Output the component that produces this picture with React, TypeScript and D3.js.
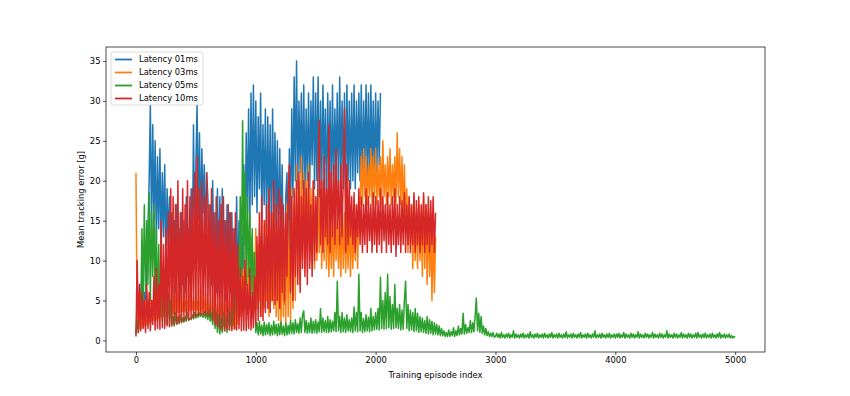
import React, { useEffect, useRef } from 'react';
import * as d3 from 'd3';

const WIDTH = 850;
const HEIGHT = 396;

// one sample every 10 episodes
const EPISODE_STEP = 10;

const seriesNames = ['Latency 01ms', 'Latency 03ms', 'Latency 05ms', 'Latency 10ms'];
const seriesColors = ['#1f77b4', '#ff7f0e', '#2ca02c', '#d62728'];

// episodes 0 - 2040
const latency01 = [
  0.8, 4, 2, 7, 1.5, 9, 3, 6, 2.5, 11,
  14, 20, 29.5, 13, 27, 15, 25, 12, 23, 14,
  24, 11, 21, 13, 22, 10, 19, 12, 18, 10,
  16, 8, 15, 6, 17, 9, 14, 5, 16, 7,
  15, 6, 18, 8, 14, 7, 19, 9, 27, 12,
  22, 29.5, 15, 26, 13, 24, 16, 22, 12, 21,
  18, 9, 17, 7, 20, 10, 16, 6, 19, 8,
  18, 6, 19, 9, 15, 5, 17, 8, 16, 6,
  16, 5, 14, 7, 18, 6, 15, 4, 13, 8,
  22, 12, 26, 16, 29, 14, 31, 17, 32, 18,
  30, 16, 28, 19, 31, 15, 27, 17, 29, 14,
  28, 16, 27, 13, 29, 15, 26, 14, 25, 12,
  24, 13, 22, 10, 4.5, 18, 21, 9, 24, 14,
  29, 18, 33, 20, 35, 19, 30, 21, 31, 19,
  32, 18, 29, 20, 31, 19, 30, 22, 33, 19,
  31, 20, 33, 18, 30, 19, 32, 21, 29, 17,
  31, 20, 30, 18, 32, 19, 29, 21, 31, 18,
  33, 20, 30, 19, 31, 18, 32, 20, 30, 19,
  31, 20, 32, 19, 30, 21, 31, 20, 32, 19,
  30, 21, 32, 20, 31, 19, 32, 21, 30, 20,
  31, 21, 30, 22, 31,
];

// episodes 0 - 2500
const latency03 = [
  21, 2, 3.5, 1.5, 4, 1.6, 3, 1.8, 5, 2,
  4, 2.2, 6, 2.3, 5, 2.5, 4.5, 2.6, 7, 2.8,
  5, 2.9, 6, 3, 8, 3.1, 5, 3.2, 6, 3.3,
  5, 3.3, 7, 3.4, 6, 3.5, 9, 3.5, 5, 3.6,
  6, 3.6, 5, 3.7, 7, 3.7, 6, 3.8, 5, 3.8,
  6, 3.8, 5, 3.7, 7, 3.6, 5, 3.5, 6, 3.4,
  5, 3.2, 4.5, 3, 6, 2.8, 5, 2.5, 4.5, 2.2,
  5, 2, 6, 1.8, 5, 2, 7, 2.2, 5, 2,
  6, 1.8, 5, 1.5, 8, 2, 6, 3, 9, 4,
  11, 4, 9, 5, 12, 4, 13, 5, 11, 6,
  14, 4, 12, 5, 13, 3, 12, 4, 15, 5,
  13, 3, 14, 5, 16, 4, 12, 3, 13, 2.5,
  14, 2, 12, 3, 14, 1.5, 17, 3, 15, 2.5,
  19, 4, 17, 5, 22, 8, 20, 7, 23, 10,
  21, 9, 20, 11, 22, 10, 19, 11, 20, 9,
  18, 10, 19, 11, 17, 9, 19, 10, 18, 9,
  17, 8, 16, 9, 15, 8, 17, 10, 16, 9,
  15, 8, 17, 9, 16, 8.5, 15, 9, 16, 8,
  15, 9, 16, 10, 17, 9, 18, 17, 23, 17,
  24, 18, 23, 17, 22, 18, 24, 17, 23, 18,
  24, 17, 22, 18, 23, 17, 25, 18, 22, 17,
  23, 18, 24, 17, 22, 18, 23, 17, 26, 18,
  24, 17, 23, 16, 22, 15, 19, 11, 18, 12,
  17, 9, 18, 10, 16, 9, 17, 10, 16, 8,
  18, 9, 17, 7, 16, 8, 15, 5, 14, 6,
  13,
];

// episodes 0 - 5000
const latency05 = [
  0.8, 2.5, 1, 6, 3, 14, 5, 17, 6, 15,
  7, 18.5, 5, 16, 8, 17, 5, 14, 4, 12,
  3, 10, 2.5, 9, 2, 8, 2, 6, 1.8, 5,
  2, 3, 1.8, 3.5, 2, 3, 2.1, 3.2, 2.2, 2.8,
  2.3, 3, 2.4, 3.5, 2.5, 2.8, 2.6, 3.2, 2.7, 3.5,
  2.8, 3.3, 2.9, 3.5, 3, 3.4, 2.9, 3.6, 2.8, 3.5,
  2.6, 3.8, 2.4, 3.5, 2, 4, 1.5, 3.5, 1, 3.2,
  0.8, 2.8, 1, 3.5, 1.2, 3, 1, 4, 1.3, 3.5,
  1.5, 6, 2, 9, 3, 12, 5, 18, 8, 27.5,
  9, 21, 7, 18, 8, 16, 6, 14, 5, 11,
  1, 2.2, 0.7, 2.4, 0.8, 1.9, 0.6, 2.3, 0.7, 2,
  0.8, 2.2, 0.6, 1.9, 0.7, 2.4, 0.8, 2, 0.6, 2.1,
  0.7, 2.3, 0.8, 1.8, 0.6, 2.2, 0.7, 1.9, 0.8, 2.5,
  0.9, 2.2, 0.8, 2.6, 1, 2.1, 0.9, 2.8, 1, 3.2,
  3.7, 1, 2.5, 0.9, 2.2, 1, 2.8, 0.9, 2.4, 1,
  2.6, 0.9, 2.3, 1.1, 4, 1, 2.8, 1.1, 2.5, 1,
  3, 1, 2.6, 1.1, 2.4, 1.2, 3.5, 1.1, 7.4, 1.2,
  3, 1, 3.5, 1.1, 2.8, 1, 3.2, 1.2, 2.6, 1.1,
  2.8, 1, 4.2, 1.2, 3.5, 1.1, 8.3, 1.2, 3.5, 1,
  2.7, 1.1, 3.2, 1.2, 2.9, 1.1, 4, 1.2, 3, 1.3,
  3.5, 1.4, 4, 1.3, 7.9, 1.5, 5, 1.4, 6, 1.5,
  8.3, 1.6, 5.5, 1.4, 4.5, 1.5, 7, 1.6, 4, 1.5,
  4.5, 1.3, 3.8, 1.4, 5, 7.4, 1.5, 4.5, 1.2, 3.8,
  1.3, 3.5, 1.1, 4, 1.2, 3.4, 1, 3, 1.1, 2.8,
  1, 2.5, 0.9, 3, 0.8, 2.6, 0.9, 2.4, 0.7, 2.2,
  0.8, 2, 0.7, 1.8, 0.6, 1.5, 0.6, 1.2, 0.5, 1,
  0.5, 1.3, 0.5, 1.1, 0.6, 1.6, 0.5, 1.2, 0.6, 1.8,
  0.7, 1.5, 0.8, 3.4, 0.8, 2, 0.9, 1.6, 1, 2.5,
  1, 2.2, 1.1, 3, 5.3, 1.2, 3.4, 1, 3, 0.9,
  1.8, 0.7, 1.5, 0.6, 1.1, 0.5, 0.9, 0.5, 1, 0.4,
  0.5, 0.9, 0.4, 0.8, 0.3, 1.0, 0.4, 0.7, 0.3, 0.8,
  0.4, 0.9, 0.3, 0.7, 0.4, 1.2, 0.3, 0.8, 0.4, 0.7,
  0.3, 0.8, 0.4, 0.9, 0.3, 0.7, 0.4, 0.8, 0.3, 1.1,
  0.4, 0.7, 0.3, 0.8, 0.4, 0.9, 0.3, 0.7, 0.4, 0.8,
  0.3, 0.9, 0.4, 0.7, 0.3, 0.8, 0.4, 1.0, 0.3, 0.7,
  0.4, 0.8, 0.3, 0.9, 0.4, 0.7, 0.3, 0.8, 0.4, 1.1,
  0.3, 0.7, 0.4, 0.8, 0.3, 0.9, 0.4, 0.7, 0.3, 0.8,
  0.4, 1.0, 0.3, 0.7, 0.4, 0.8, 0.3, 0.9, 0.4, 0.7,
  0.3, 0.8, 0.4, 1.2, 0.3, 0.7, 0.4, 0.8, 0.3, 0.9,
  0.4, 0.7, 0.3, 0.8, 0.4, 0.9, 0.3, 0.7, 0.4, 0.8,
  0.3, 0.8, 0.4, 0.9, 0.3, 0.7, 0.4, 1.0, 0.3, 0.8,
  0.4, 0.7, 0.3, 0.9, 0.4, 0.8, 0.3, 0.7, 0.4, 1.1,
  0.3, 0.8, 0.4, 0.7, 0.3, 0.9, 0.4, 0.8, 0.3, 0.7,
  0.4, 1.0, 0.3, 0.8, 0.4, 0.7, 0.3, 0.9, 0.4, 0.8,
  0.3, 0.7, 0.4, 1.2, 0.3, 0.8, 0.4, 0.7, 0.3, 0.9,
  0.4, 0.8, 0.3, 0.7, 0.4, 1.0, 0.3, 0.8, 0.4, 0.7,
  0.3, 0.9, 0.4, 0.8, 0.3, 0.7, 0.4, 0.9, 0.3, 1.0,
  0.4, 0.7, 0.3, 0.8, 0.4, 0.9, 0.3, 0.7, 0.4, 0.8,
  0.3, 0.9, 0.4, 0.7, 0.3, 0.8, 0.4, 1.0, 0.3, 0.7,
  0.4, 0.8, 0.3, 0.7, 0.4, 0.8, 0.3, 0.6, 0.3, 0.5,
  0.4,
];

// episodes 0 - 2500
const latency10 = [
  0.5, 10, 1, 7, 1.2, 6, 1.5, 5, 1, 7,
  1.5, 6, 1.2, 5, 2, 8, 1.3, 9, 1.5, 7,
  1.4, 15, 1.6, 12, 1.5, 14, 1.8, 16, 1.7, 19,
  1.8, 18, 2, 17, 2.1, 20, 2.2, 16, 2.3, 19,
  2.4, 17, 2.5, 20, 2.6, 18, 2.7, 19, 2.8, 21,
  3, 23, 3.1, 19, 3.2, 20, 3.3, 18, 3.2, 21,
  3.1, 17, 3, 19, 2.5, 16, 2, 18, 1.8, 15,
  1.5, 17, 1.3, 18, 1.2, 15, 1.4, 17, 1.3, 16,
  1.2, 14, 1.4, 16, 1.3, 12, 1.5, 9, 1.2, 8,
  1.3, 10, 1.2, 7, 1.5, 9, 1.3, 6, 1.6, 8,
  2, 13, 2.5, 16, 3, 18, 2.5, 15, 3.5, 17,
  4, 19, 3.5, 16, 5, 20, 4.5, 17, 5, 19,
  4, 18, 6, 17, 5, 16, 8, 19, 22, 6,
  18, 5, 19, 8, 20, 7, 21, 6, 18, 9,
  20, 8, 19, 7, 21, 9, 17, 8, 20, 10,
  18, 11, 22, 27.5, 12, 20, 11, 23, 13, 19,
  12, 27, 11, 21, 13, 22, 12, 24, 14, 20,
  12, 22, 13, 21, 29, 11, 22, 12, 20, 13,
  18, 12, 18.5, 11, 17, 13, 19, 12, 18, 11,
  17, 12, 19, 11, 18, 12.5, 17, 11, 18.5, 12,
  18, 11, 17.5, 12, 19, 11, 18, 12.5, 17, 11,
  18.5, 12, 17, 11, 18, 12, 19, 10.5, 17, 12,
  18, 11, 17.5, 12, 18.5, 11, 17, 12, 18, 11,
  17, 12, 18.5, 11, 17.5, 12, 18, 11, 17, 12,
  18.5, 11, 17, 12, 18, 11, 17.5, 12, 18, 11,
  16,
];

const xTicks = [0, 1000, 2000, 3000, 4000, 5000];
const yTicks = [0, 5, 10, 15, 20, 25, 30, 35];

const allSeries = [latency01, latency03, latency05, latency10];

export default function App() {
  const svgRef = useRef<SVGSVGElement>(null);

  useEffect(() => {
    if (!svgRef.current) return;
    const svg = d3.select(svgRef.current);
    svg.selectAll('*').remove();

    const plot = { left: 106, right: 765, top: 47, bottom: 352 };
    const font = 'DejaVu Sans, sans-serif';
    const fontSize = 8.4;

    const x = d3.scaleLinear().domain([-250, 5249]).range([plot.left, plot.right]);
    const y = d3.scaleLinear().domain([-1.45, 36.75]).range([plot.bottom, plot.top]);

    svg.append('rect').attr('width', WIDTH).attr('height', HEIGHT).attr('fill', '#fff');

    // noisy training curves, drawn in legend order so red ends up on top
    const line = d3.line<number>()
      .x((_, i) => x(i * EPISODE_STEP))
      .y(d => y(d));

    allSeries.forEach((values, k) => {
      svg.append('path')
        .datum(values)
        .attr('d', line)
        .attr('fill', 'none')
        .attr('stroke', seriesColors[k])
        .attr('stroke-width', 1.5)
        .attr('stroke-linejoin', 'round');
    });

    // axes
    const xAxis = d3.axisBottom(x).tickValues(xTicks).tickSize(3).tickPadding(2.5).tickFormat(d3.format('d'));
    const yAxis = d3.axisLeft(y).tickValues(yTicks).tickSize(3).tickPadding(2.5).tickFormat(d3.format('d'));

    const gx = svg.append('g').attr('transform', `translate(0,${plot.bottom})`).call(xAxis);
    const gy = svg.append('g').attr('transform', `translate(${plot.left},0)`).call(yAxis);
    [gx, gy].forEach(g => {
      g.select('.domain').remove();
      g.selectAll('line').attr('stroke', '#000').attr('stroke-width', 0.7);
      g.selectAll('text').attr('fill', '#000').style('font-family', font).style('font-size', `${fontSize}px`);
    });

    // frame
    svg.append('rect')
      .attr('x', plot.left)
      .attr('y', plot.top)
      .attr('width', plot.right - plot.left)
      .attr('height', plot.bottom - plot.top)
      .attr('fill', 'none')
      .attr('stroke', '#000')
      .attr('stroke-width', 0.7);

    // axis labels
    svg.append('text')
      .attr('x', (plot.left + plot.right) / 2)
      .attr('y', 378)
      .attr('text-anchor', 'middle')
      .style('font-family', font)
      .style('font-size', `${fontSize}px`)
      .text('Training episode index');

    svg.append('text')
      .attr('transform', `translate(84,${(plot.top + plot.bottom) / 2}) rotate(-90)`)
      .attr('text-anchor', 'middle')
      .style('font-family', font)
      .style('font-size', `${fontSize}px`)
      .text('Mean tracking error [g]');

    // legend
    const legend = svg.append('g').attr('transform', 'translate(111,52)');
    legend.append('rect')
      .attr('width', 92)
      .attr('height', 53)
      .attr('rx', 2)
      .attr('fill', '#fff')
      .attr('fill-opacity', 0.8)
      .attr('stroke', '#ccc')
      .attr('stroke-width', 0.7);

    seriesNames.forEach((name, k) => {
      const cy = 7.5 + k * 13;
      legend.append('line')
        .attr('x1', 4)
        .attr('x2', 21)
        .attr('y1', cy)
        .attr('y2', cy)
        .attr('stroke', seriesColors[k])
        .attr('stroke-width', 1.8);
      legend.append('text')
        .attr('x', 28)
        .attr('y', cy)
        .attr('dy', '0.35em')
        .style('font-family', font)
        .style('font-size', `${fontSize}px`)
        .text(name);
    });
  }, []);

  return (
    <div style={{ position: 'fixed', left: 0, top: 0 }}>
      <svg ref={svgRef} width={WIDTH} height={HEIGHT} style={{ display: 'block' }} />
    </div>
  );
}
